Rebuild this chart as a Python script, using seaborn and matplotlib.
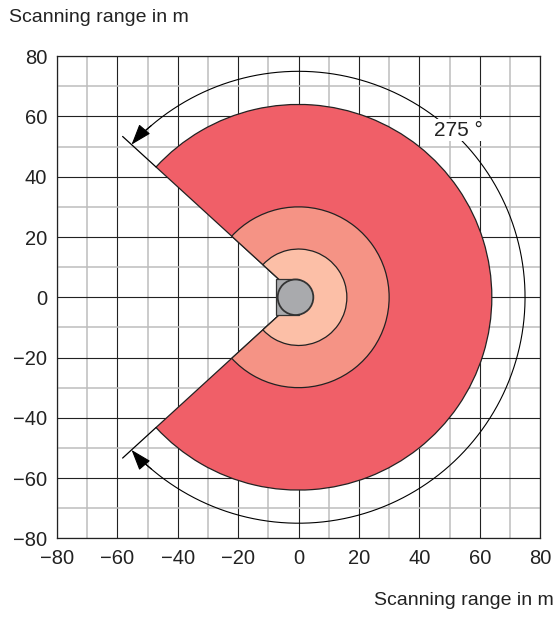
import numpy as np
import matplotlib
matplotlib.use("Agg")
import matplotlib.pyplot as plt
from matplotlib.patches import Wedge, Circle, Rectangle
import seaborn as sns

# scanning ranges (m) and field colours, outer to inner
ranges = [64, 30, 16]
field_colors = ["#f05f68", "#f59385", "#fcbfa7"]
scan_angle = 275  # degrees
ticks = [-80, -60, -40, -20, 0, 20, 40, 60, 80]
axis_label = "Scanning range in m"

sns.set_style("white")
plt.rcParams["font.family"] = ["Liberation Sans", "DejaVu Sans"]

fig = plt.figure(figsize=(5.58, 6.18), dpi=100)
ax = fig.add_axes([0.102, 0.129, 0.866, 0.78])

half = scan_angle / 2
for r, c in zip(ranges, field_colors):
    ax.add_patch(Wedge((0, 0), r, -half, half, facecolor=c,
                       edgecolor="#222222", lw=0.9, zorder=3))

# sensor housing
ax.add_patch(Rectangle((-7.5, -6), 7.5, 12, facecolor="#a9aaad",
                       edgecolor="#333333", lw=0.9, zorder=4))
ax.add_patch(Circle((-1, 0), 5.9, facecolor="#a9aaad",
                    edgecolor="#333333", lw=1.3, zorder=5))

# boundary lines of the scan angle
for sgn in (1, -1):
    a = np.deg2rad(sgn * half)
    ax.plot([64 * np.cos(a), 79 * np.cos(a)], [64 * np.sin(a), 79 * np.sin(a)],
            color="black", lw=0.9, zorder=6)

# arc with arrows
r_arc = 75
th = np.deg2rad(np.linspace(half - 5, -half + 5, 300))
ax.plot(r_arc * np.cos(th), r_arc * np.sin(th), color="black", lw=0.8, zorder=6)
for sgn in (1, -1):
    a_end = np.deg2rad(sgn * half)
    a_start = np.deg2rad(sgn * (half - 7))
    ax.annotate("", xy=(r_arc * np.cos(a_end), r_arc * np.sin(a_end)),
                xytext=(r_arc * np.cos(a_start), r_arc * np.sin(a_start)),
                arrowprops=dict(arrowstyle="-|>,head_length=1.3,head_width=0.45",
                                color="black", lw=0.8, shrinkA=0, shrinkB=0,
                                connectionstyle="arc3,rad=%.2f" % (0.05 * sgn)),
                zorder=7)

ax.text(53, 55.5, f"{scan_angle} °", fontsize=15, ha="center", va="center",
        color="#222222", zorder=8,
        bbox=dict(facecolor="white", edgecolor="none", pad=1.0))

ax.set_xlim(-80, 80)
ax.set_ylim(-80, 80)
ax.set_xticks(ticks)
ax.set_yticks(ticks)
ax.set_xticks(np.arange(-70, 80, 20), minor=True)
ax.set_yticks(np.arange(-70, 80, 20), minor=True)
ax.grid(which="major", color="#222222", lw=0.8, zorder=0)
ax.grid(which="minor", color="#bdbdbd", lw=1.1, zorder=0)
ax.set_axisbelow(True)
ax.tick_params(which="both", length=0, labelsize=14.5, colors="#222222")
ax.tick_params(axis="x", pad=8)
ax.tick_params(axis="y", pad=7)
for s in ax.spines.values():
    s.set_color("#222222")
    s.set_linewidth(0.9)

fig.text(0.016, 0.985, axis_label, fontsize=14, ha="left", va="top", color="#222222")
fig.text(0.992, 0.029, axis_label, fontsize=14, ha="right", va="center", color="#222222")

fig.savefig("out.png", dpi=100)
